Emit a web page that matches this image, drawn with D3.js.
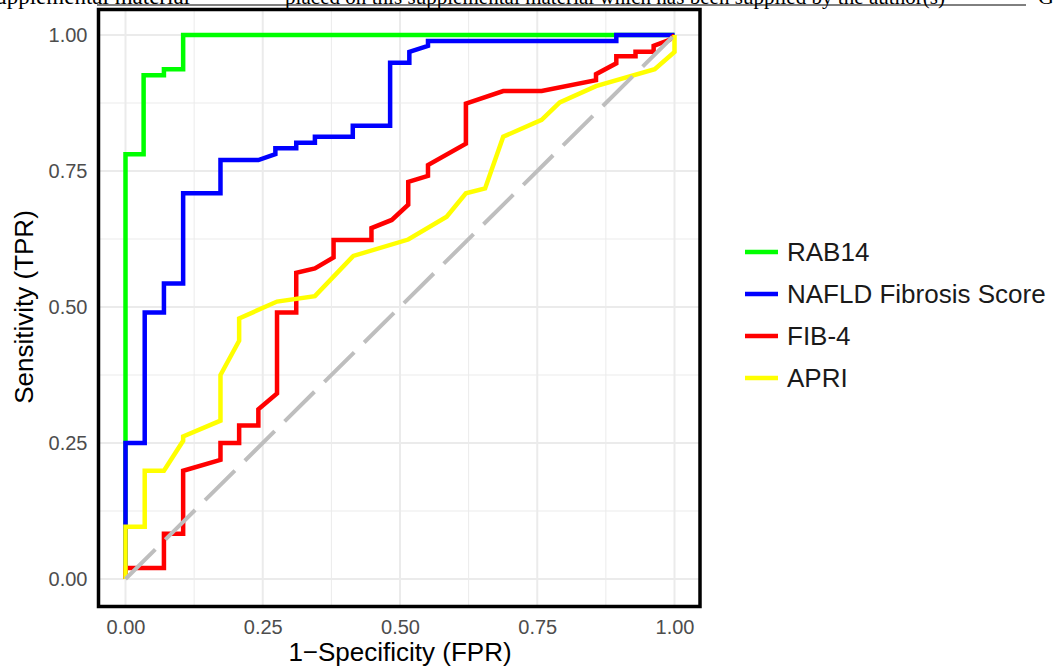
<!DOCTYPE html>
<html>
<head>
<meta charset="utf-8">
<script src="https://cdn.jsdelivr.net/npm/d3@7"></script>
<style>
  body { margin: 0; background: #fff; }
  svg { display: block; }
</style>
</head>
<body>
<div id="rocChart"></div>
<script>
// series names, in legend / drawing order
var seriesNames = ["RAB14", "NAFLD Fibrosis Score", "FIB-4", "APRI"];

// ROC points (FPR, TPR)
var rab14Fpr = [0, 0, 0.033, 0.033, 0.07, 0.07, 0.105, 0.105, 1];
var rab14Tpr = [0, 0.781, 0.781, 0.926, 0.926, 0.937, 0.937, 1, 1];

var nafldFpr = [0, 0, 0.035, 0.035, 0.07, 0.07, 0.105, 0.105, 0.173, 0.173, 0.242, 0.273, 0.273, 0.311, 0.311, 0.345, 0.345, 0.414, 0.414, 0.482, 0.482, 0.517, 0.517, 0.551, 0.551, 0.894, 0.894, 1];
var nafldTpr = [0, 0.25, 0.25, 0.49, 0.49, 0.543, 0.543, 0.709, 0.709, 0.77, 0.77, 0.781, 0.792, 0.792, 0.802, 0.802, 0.813, 0.813, 0.833, 0.833, 0.949, 0.949, 0.969, 0.98, 0.989, 0.989, 1, 1];

var fib4Fpr = [0, 0, 0.07, 0.07, 0.105, 0.105, 0.173, 0.173, 0.207, 0.207, 0.242, 0.242, 0.276, 0.276, 0.311, 0.311, 0.345, 0.379, 0.379, 0.448, 0.448, 0.485, 0.515, 0.515, 0.551, 0.551, 0.62, 0.62, 0.688, 0.758, 0.857, 0.857, 0.894, 0.894, 0.929, 0.929, 0.962, 0.962, 0.991, 1];
var fib4Tpr = [0, 0.02, 0.02, 0.083, 0.083, 0.199, 0.219, 0.25, 0.25, 0.282, 0.282, 0.312, 0.341, 0.49, 0.49, 0.563, 0.571, 0.591, 0.623, 0.623, 0.645, 0.66, 0.688, 0.73, 0.741, 0.761, 0.80, 0.874, 0.897, 0.897, 0.917, 0.928, 0.948, 0.961, 0.961, 0.969, 0.969, 0.98, 0.991, 1];

var apriFpr = [0, 0, 0.035, 0.035, 0.07, 0.105, 0.105, 0.173, 0.173, 0.207, 0.207, 0.276, 0.345, 0.415, 0.515, 0.585, 0.62, 0.655, 0.688, 0.758, 0.791, 0.857, 0.964, 1, 1];
var apriTpr = [0, 0.096, 0.096, 0.199, 0.199, 0.254, 0.262, 0.291, 0.375, 0.438, 0.479, 0.51, 0.52, 0.594, 0.624, 0.666, 0.709, 0.718, 0.813, 0.844, 0.876, 0.906, 0.937, 0.969, 1];

// reference diagonal
var chanceFpr = [0, 1];
var chanceTpr = [0, 1];

var tickValues = [0, 0.25, 0.5, 0.75, 1];
var minorValues = [0.125, 0.375, 0.625, 0.875];

// styles
var seriesColors = ["#00ff00", "#0000ff", "#ff0000", "#ffff00"];
var sansFont = "'Liberation Sans', Arial, sans-serif";
var serifFont = "'Liberation Serif', 'Times New Roman', serif";

var W = 1054, H = 668;

var svg = d3.select("#rocChart")
  .append("svg")
    .attr("width", W)
    .attr("height", H);

// header strip from the source page (cropped at the top)
svg.append("line")
  .attr("x1", 97).attr("x2", 1026)
  .attr("y1", 5).attr("y2", 5)
  .attr("stroke", "#000").attr("stroke-width", 1);
svg.append("text")
  .attr("x", 190).attr("y", 4)
  .attr("text-anchor", "end")
  .style("font-family", serifFont)
  .style("font-size", "23px")
  .text("Supplemental material");
svg.append("text")
  .attr("x", 285).attr("y", 4)
  .attr("textLength", 660)
  .style("font-family", serifFont)
  .style("font-size", "21px")
  .text("placed on this supplemental material which has been supplied by the author(s)");
svg.append("text")
  .attr("x", 1038).attr("y", 4)
  .style("font-family", serifFont)
  .style("font-size", "22px")
  .text("G");

var x = d3.scaleLinear().domain([0, 1]).range([125.5, 674.5]);
var y = d3.scaleLinear().domain([0, 1]).range([579, 35]);

var panel = {left: 98.5, right: 700, top: 9.5, bottom: 606.5};

var g = svg.append("g");

// minor grid
g.selectAll(".vminor").data(minorValues).enter().append("line")
  .attr("x1", d => x(d)).attr("x2", d => x(d))
  .attr("y1", panel.top).attr("y2", panel.bottom)
  .attr("stroke", "#ebebeb").attr("stroke-width", 1);
g.selectAll(".hminor").data(minorValues).enter().append("line")
  .attr("y1", d => y(d)).attr("y2", d => y(d))
  .attr("x1", panel.left).attr("x2", panel.right)
  .attr("stroke", "#ebebeb").attr("stroke-width", 1);
// major grid
g.selectAll(".vmajor").data(tickValues).enter().append("line")
  .attr("x1", d => x(d)).attr("x2", d => x(d))
  .attr("y1", panel.top).attr("y2", panel.bottom)
  .attr("stroke", "#ebebeb").attr("stroke-width", 2);
g.selectAll(".hmajor").data(tickValues).enter().append("line")
  .attr("y1", d => y(d)).attr("y2", d => y(d))
  .attr("x1", panel.left).attr("x2", panel.right)
  .attr("stroke", "#ebebeb").attr("stroke-width", 2);

// curves
var allFpr = [rab14Fpr, nafldFpr, fib4Fpr, apriFpr];
var allTpr = [rab14Tpr, nafldTpr, fib4Tpr, apriTpr];

var line = d3.line()
  .x(d => x(d[0]))
  .y(d => y(d[1]));

seriesNames.forEach(function(name, i) {
  var pts = allFpr[i].map((f, j) => [f, allTpr[i][j]]);
  g.append("path")
    .datum(pts)
    .attr("d", line)
    .attr("fill", "none")
    .attr("stroke", seriesColors[i])
    .attr("stroke-width", 4.5)
    .attr("stroke-linejoin", "miter")
    .attr("stroke-linecap", "butt");
});

// chance line
g.append("path")
  .datum(chanceFpr.map((f, j) => [f, chanceTpr[j]]))
  .attr("d", line)
  .attr("fill", "none")
  .attr("stroke", "#bebebe")
  .attr("stroke-width", 4)
  .attr("stroke-dasharray", "42,14");

// panel border
g.append("rect")
  .attr("x", panel.left).attr("y", panel.top)
  .attr("width", panel.right - panel.left)
  .attr("height", panel.bottom - panel.top)
  .attr("fill", "none")
  .attr("stroke", "#000")
  .attr("stroke-width", 3.5);

// axes (labels only, no tick marks)
var xAxis = svg.append("g")
  .attr("transform", "translate(0," + panel.bottom + ")")
  .call(d3.axisBottom(x).tickValues(tickValues).tickFormat(d3.format(".2f")).tickSize(0).tickPadding(13));
var yAxis = svg.append("g")
  .attr("transform", "translate(" + (panel.left - 8) + ",0)")
  .call(d3.axisLeft(y).tickValues(tickValues).tickFormat(d3.format(".2f")).tickSize(0).tickPadding(3));

[xAxis, yAxis].forEach(function(ax) {
  ax.select(".domain").remove();
  ax.selectAll("text")
    .attr("fill", "#4d4d4d")
    .style("font-family", sansFont)
    .style("font-size", "20px");
});

// axis titles
svg.append("text")
  .attr("x", x(0.5)).attr("y", 661)
  .attr("text-anchor", "middle")
  .style("font-family", sansFont)
  .style("font-size", "26px")
  .text("1\u2212Specificity (FPR)");
svg.append("text")
  .attr("transform", "translate(33," + y(0.5) + ") rotate(-90)")
  .attr("text-anchor", "middle")
  .style("font-family", sansFont)
  .style("font-size", "26px")
  .text("Sensitivity (TPR)");

// legend
var legend = svg.append("g").attr("transform", "translate(745,252)");
seriesNames.forEach(function(name, i) {
  var row = legend.append("g").attr("transform", "translate(0," + (i * 42) + ")");
  row.append("line")
    .attr("x1", 0).attr("x2", 33)
    .attr("y1", 0).attr("y2", 0)
    .attr("stroke", seriesColors[i])
    .attr("stroke-width", 4.5);
  row.append("text")
    .attr("x", 42).attr("y", 0).attr("dy", "0.36em")
    .style("font-family", sansFont)
    .style("font-size", "26px")
    .attr("fill", "#1a1a1a")
    .text(name);
});
</script>
</body>
</html>
